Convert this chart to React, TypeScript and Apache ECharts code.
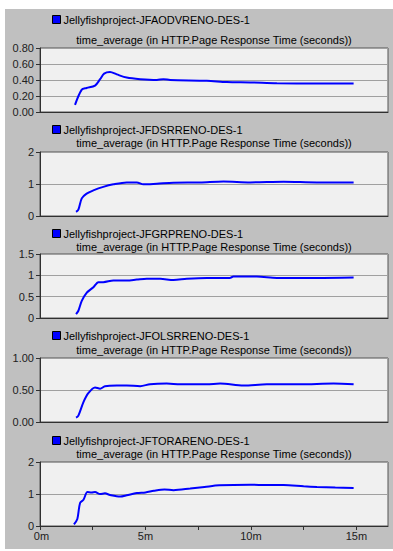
import React, { useEffect, useRef } from "react";
import * as echarts from "echarts";

const seriesNames = [
  "Jellyfishproject-JFAODVRENO-DES-1",
  "Jellyfishproject-JFDSRRENO-DES-1",
  "Jellyfishproject-JFGRPRENO-DES-1",
  "Jellyfishproject-JFOLSRRENO-DES-1",
  "Jellyfishproject-JFTORARENO-DES-1",
];
const subTitle = "time_average (in HTTP.Page Response Time (seconds))";

// [minutes, seconds]
const aodvData = [
  [1.66, 0.09], [1.98, 0.28], [2.21, 0.3], [2.61, 0.33], [2.85, 0.41], [3.04, 0.48],
  [3.32, 0.5], [3.64, 0.47], [4.11, 0.43], [4.75, 0.41], [5.54, 0.4], [5.85, 0.41],
  [6.17, 0.4], [7.91, 0.39], [8.86, 0.375], [9.97, 0.37], [11.23, 0.36], [13.13, 0.355],
  [14.87, 0.355],
];
const dsrData = [
  [1.71, 0.13], [1.82, 0.2], [1.98, 0.55], [2.21, 0.7], [2.53, 0.8], [3.0, 0.91],
  [3.48, 0.99], [4.11, 1.05], [4.59, 1.05], [4.9, 0.99], [5.54, 1.01], [6.33, 1.04],
  [7.59, 1.05], [8.7, 1.08], [9.97, 1.05], [11.55, 1.07], [13.13, 1.05], [14.87, 1.05],
];
const grpData = [
  [1.71, 0.09], [1.82, 0.17], [1.98, 0.4], [2.21, 0.59], [2.53, 0.72], [2.77, 0.84],
  [3.0, 0.84], [3.48, 0.88], [4.11, 0.88], [4.59, 0.9], [5.06, 0.92], [5.7, 0.92],
  [6.33, 0.89], [6.96, 0.92], [7.91, 0.94], [9.0, 0.94], [9.17, 0.97], [10.28, 0.97],
  [11.23, 0.94], [13.13, 0.94], [14.87, 0.95],
];
const olsrData = [
  [1.71, 0.07], [1.82, 0.1], [2.06, 0.31], [2.29, 0.45], [2.61, 0.54], [2.85, 0.52],
  [3.08, 0.56], [3.64, 0.57], [4.11, 0.57], [4.75, 0.56], [5.22, 0.59], [6.01, 0.6],
  [6.65, 0.59], [7.91, 0.59], [8.54, 0.6], [9.65, 0.57], [10.76, 0.59], [12.34, 0.59],
  [13.92, 0.6], [14.87, 0.59],
];
const toraData = [
  [1.61, 0.05], [1.77, 0.22], [1.9, 0.72], [2.06, 0.82], [2.25, 1.06], [2.45, 1.05],
  [2.61, 1.06], [2.85, 1.0], [3.08, 1.02], [3.32, 0.97], [3.8, 0.92], [4.11, 0.96],
  [4.59, 1.03], [5.0, 1.05], [5.4, 1.1], [5.9, 1.14], [6.33, 1.12], [7.12, 1.17],
  [7.8, 1.22], [8.5, 1.27], [9.97, 1.29], [10.8, 1.28], [11.55, 1.28], [12.5, 1.24],
  [13.13, 1.22], [14.0, 1.2], [14.87, 1.19],
];
const allData = [aodvData, dsrData, grpData, olsrData, toraData];

const yMax = [0.8, 2, 1.5, 1, 2];
const yInterval = [0.2, 1, 0.5, 0.5, 1];
const yDecimals = [2, 0, -1, 2, 0];
const xTickValues = [0, 2.5, 5, 7.5, 10, 12.5, 15];
const xLabelValues = [0, 5, 10, 15];

const FONT = "Arial, 'Liberation Sans', sans-serif";

export default function App() {
  const ref = useRef<HTMLDivElement>(null);
  useEffect(() => {
    document.body.style.margin = "0";
    const chart = echarts.init(ref.current!, null, { renderer: "svg" });
    const gridTops = [48, 152, 254, 358, 462];
    const gridH = 64;
    const legendTops = [14, 124, 228, 330, 435];
    const titleTops = [34, 137, 241, 344, 448];
    const left = 40;
    const width = 348;

    const grids = gridTops.map((t) => ({
      left, top: t, width, height: gridH, show: true,
      backgroundColor: "#f0f0f0", borderColor: "#555555", borderWidth: 1,
      containLabel: false,
    }));
    const xAxes = gridTops.map((_, i) => ({
      type: "value", gridIndex: i, min: 0, max: 16.5,
      axisLine: { show: true, lineStyle: { color: "#303030", width: 1 } },
      axisTick: i === 4
        ? { show: true, length: 4, customValues: xTickValues, lineStyle: { color: "#303030" } }
        : { show: false },
      axisLabel: i === 4
        ? {
            show: true, customValues: xLabelValues, color: "#202020", fontSize: 11, fontFamily: FONT, margin: 4,
            formatter: (v: number) => (v === 0 ? `{first|${v}m}` : `${v}m`),
            rich: { first: { fontSize: 11, fontFamily: FONT, color: "#202020", padding: [0, 0, 0, 3] } },
          }
        : { show: false },
      splitLine: { show: false },
    }));
    const yAxes = gridTops.map((_, i) => ({
      type: "value", gridIndex: i, min: 0, max: yMax[i], interval: yInterval[i],
      axisLine: { show: true, lineStyle: { color: "#303030", width: 1 } },
      axisTick: { show: true, length: 4, lineStyle: { color: "#303030" } },
      axisLabel: {
        color: "#202020", fontSize: 11, fontFamily: FONT, margin: 6,
        formatter: (v: number) => (yDecimals[i] >= 0 ? v.toFixed(yDecimals[i]) : String(v)),
      },
      splitLine: { show: true, lineStyle: { color: "#a0a0a0", width: 1 } },
    }));
    const series = allData.map((d, i) => ({
      type: "line", name: seriesNames[i], xAxisIndex: i, yAxisIndex: i,
      data: d, showSymbol: false, symbol: "none", smooth: 0.3,
      lineStyle: { color: "#0000ff", width: 2 }, itemStyle: { color: "#0000ff" },
    }));
    const legends = seriesNames.map((n, i) => ({
      data: [n], left: 52, top: legendTops[i], padding: 0, icon: "rect",
      itemWidth: 8, itemHeight: 8, itemGap: 0,
      itemStyle: { color: "#0000ff", borderColor: "#000000", borderWidth: 1 },
      textStyle: { color: "#000000", fontSize: 11, fontFamily: FONT, padding: [0, 0, 0, -2] },
      selectedMode: false,
    }));
    const titles = titleTops.map((t) => ({
      text: subTitle, left: left + width / 2, top: t, textAlign: "center", padding: 0,
      textStyle: { color: "#000000", fontSize: 11, fontWeight: "normal", fontFamily: FONT },
    }));

    chart.setOption({
      animation: false,
      backgroundColor: "#ffffff",
      graphic: [{
        type: "rect", left: 5, top: 9, z: -100,
        shape: { width: 388, height: 540 }, style: { fill: "#c0c0c0" }, silent: true,
      }],
      title: titles,
      legend: legends,
      grid: grids,
      xAxis: xAxes,
      yAxis: yAxes,
      series,
    });
    return () => chart.dispose();
  }, []);
  return <div ref={ref} style={{ width: 393, height: 551 }} />;
}
